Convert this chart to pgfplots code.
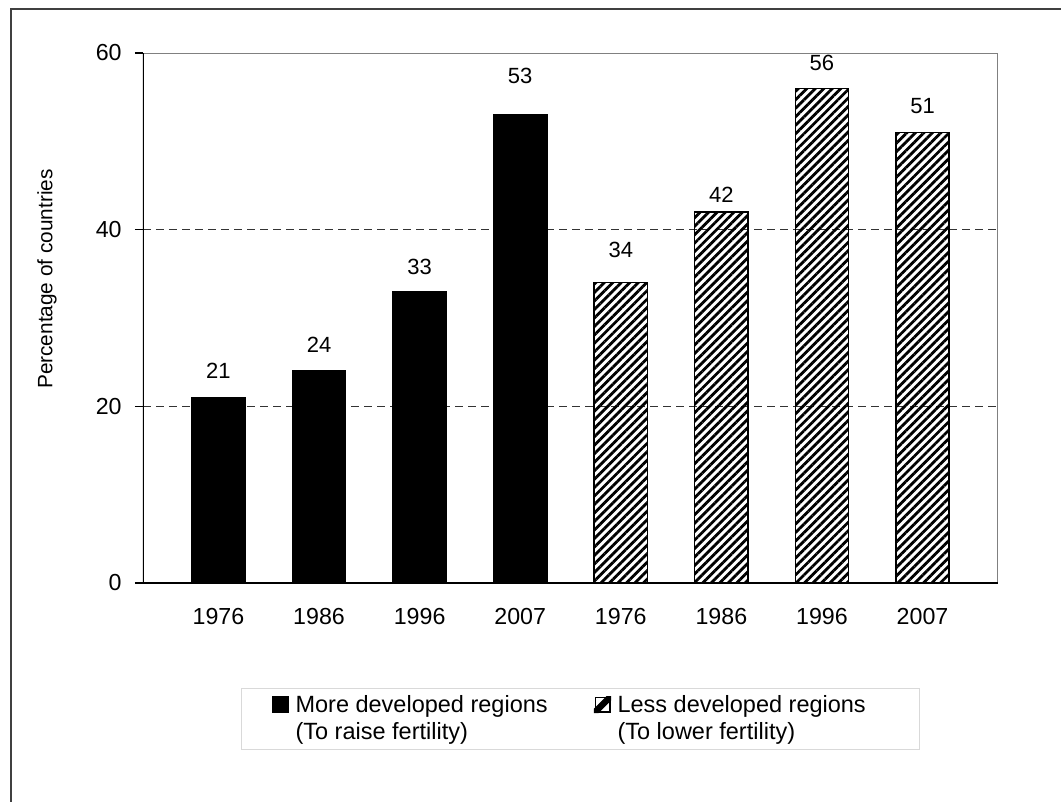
\documentclass[border=0pt]{standalone}
\usepackage{fontspec}
\setmainfont{Liberation Sans}
\usepackage{pgfplots}
\pgfplotsset{compat=1.18}
\usetikzlibrary{patterns.meta}

% bar value, label offset above the bar top
\pgfplotstableread{
x y off
0 21 13.5
1 24 13
2 33 12.5
3 53 19.5
}\moredev
\pgfplotstableread{
x y off
4 34 16.5
5 42 8.5
6 56 12.5
7 51 13
}\lessdev

\begin{document}
\begin{tikzpicture}
% page = 1061 x 802 px at 0.5pt per px, origin top left
\path[use as bounding box] (0,0) rectangle (530.5pt,-401pt);
\draw[black!75, line width=0.7pt] (5.5pt,-401pt) -- (5.5pt,-4.5pt) -- (530.5pt,-4.5pt);
\begin{axis}[
  at={(71.5pt,-26.5pt)}, anchor=north west,
  scale only axis, width=427.5pt, height=265pt,
  xmin=-0.75, xmax=7.75, ymin=0, ymax=60,
  xtick={0,...,7},
  xticklabels={1976,1986,1996,2007,1976,1986,1996,2007},
  ytick={0,20,40,60}, ytick pos=left,
  tick align=outside, major tick length=4pt,
  xtick style={draw=none},
  ytick style={black, line width=0.6pt},
  axis line style={draw=none},
  ymajorgrids, grid style={black!80, line width=0.5pt, dash pattern=on 4pt off 2.5pt},
  /pgf/number format/assume math mode=true,
  xticklabel style={font=\fontsize{11.6}{14}\selectfont, anchor=center, inner sep=0pt, yshift=-13pt},
  yticklabel style={font=\fontsize{11.6}{14}\selectfont, anchor=east, inner sep=0pt, xshift=-6.5pt},
  ylabel={Percentage of countries},
  ylabel style={font=\fontsize{10.4}{12}\selectfont, at={(rel axis cs:-0.1123,0.5736)}, anchor=center},
  ybar, bar shift=0pt, bar width=0.53,
  nodes near coords,
  visualization depends on={\thisrow{off} \as \off},
  every node near coord/.append style={font=\fontsize{11}{13}\selectfont, anchor=center, yshift=\off pt, black},
  legend columns=2, legend cell align=left,
  legend style={at={(0.1146,-0.1981)}, anchor=north west, draw=black!15, line width=0.6pt,
    inner xsep=8.5pt, inner ysep=3.5pt, row sep=3.5pt,
    font=\fontsize{11.75}{14}\selectfont,
    nodes={inner sep=0pt}},
]
\addplot[forget plot, fill=black, draw=black, line width=0.75pt] table[x=x, y=y] {\moredev};
\addplot[forget plot, draw=black, line width=0.75pt,
  pattern={Lines[angle=45, distance=3pt, line width=1.4pt]}, pattern color=black] table[x=x, y=y] {\lessdev};
\addlegendimage{legend image code/.code={\path[draw=none] (-7pt,0) -- (11.5pt,0);
    \fill[black] (0pt,-3.5pt) rectangle (8pt,4.5pt);}}
\addlegendentry{\makebox[142.5pt][l]{More developed regions}}
\addlegendimage{legend image code/.code={\path[draw=none] (-7pt,0) -- (11.5pt,0);
    \fill[black] (0pt,-3.5pt) -- (1.8pt,-3.5pt) -- (8pt,2.7pt) -- (8pt,4.5pt) -- (6.2pt,4.5pt) -- (0pt,-1.7pt) -- cycle;
    \draw[black, line width=0.8pt] (0.4pt,-3.1pt) rectangle (7.6pt,4.1pt);}}
\addlegendentry{\makebox[142.5pt][l]{Less developed regions}}
\addlegendimage{empty legend}
\addlegendentry{(To raise fertility)}
\addlegendimage{empty legend}
\addlegendentry{(To lower fertility)}
\draw[black!50, line width=0.75pt] (rel axis cs:0,1) -- (rel axis cs:1,1) -- (rel axis cs:1,0);
\draw[black, line width=0.8pt] (rel axis cs:0,1) -- (rel axis cs:0,0) -- (rel axis cs:1,0);
\end{axis}
\end{tikzpicture}
\end{document}
